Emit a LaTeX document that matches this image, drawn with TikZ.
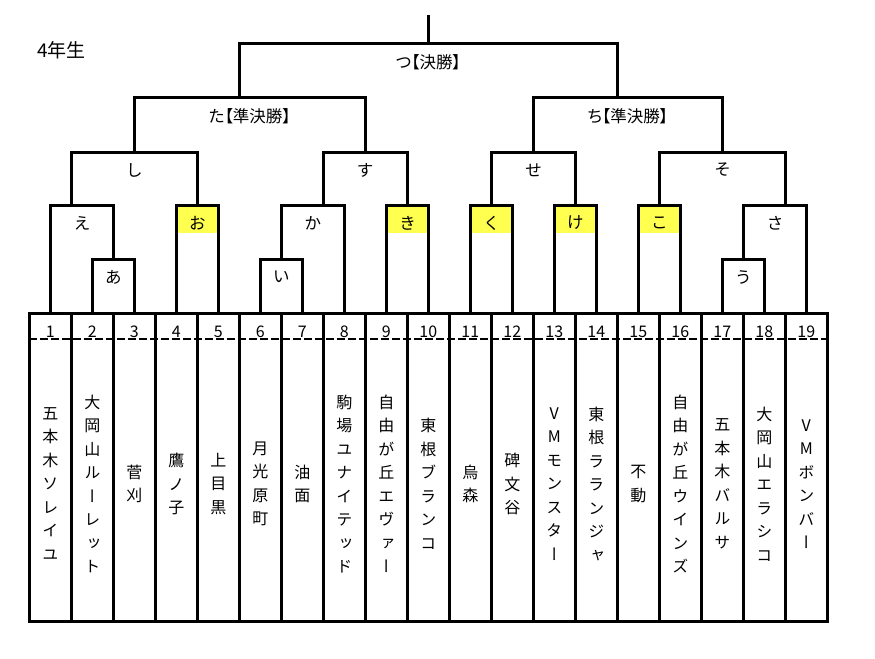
\documentclass[tikz,border=0pt]{standalone}
\usepackage{fontspec}
\setmainfont{Noto Sans CJK JP}
\newfontfamily\tatefont[RawFeature=+vert]{Noto Sans CJK JP}
\newfontfamily\lblfont[RawFeature=+palt]{Noto Sans CJK JP}
\usetikzlibrary{positioning}
\definecolor{hlyellow}{RGB}{255,255,80}
\tikzset{
    %Define style for bracket lines
    wire/.style={
           draw=black,
           line width=3pt},
    %Define style for round labels
    lbl/.style={
           font=\lblfont\fontsize{16.5pt}{18pt}\selectfont,
           inner sep=0pt},
    %Define style for team names, one character a line
    team/.style={
           font=\tatefont\fontsize{16pt}{23.5pt}\selectfont,
           align=center,
           inner sep=0pt},
    %Define style for team numbers
    num/.style={
           font=\fontsize{16pt}{18pt}\selectfont,
           anchor=base,
           inner sep=0pt},
    % seeded rounds
    hl/.style={
           fill=hlyellow}
}
\begin{document}
\begin{tikzpicture}[x=42pt,y=-1pt]
\useasboundingbox (-0.6976,0) rectangle (20.136,659);
 %team feet and numbers
\foreach \i in {1,...,19}{
  \coordinate (p\i) at (\i-0.5,313);
  \node[num] (t\i) at (\i-0.5,337) {\i};
}
 %joins of the bracket
\coordinate (j-a) at (2,259);
\coordinate (j-i) at (6,259);
\coordinate (j-u) at (17,259);
\coordinate (j-e) at (1,205);
\coordinate (j-o) at (4,205);
\coordinate (j-ka) at (7,205);
\coordinate (j-ki) at (9,205);
\coordinate (j-ku) at (11,205);
\coordinate (j-ke) at (13,205);
\coordinate (j-ko) at (15,205);
\coordinate (j-sa) at (18,205);
\coordinate (j-shi) at (2.5,152);
\coordinate (j-su) at (8,152);
\coordinate (j-se) at (12,152);
\coordinate (j-so) at (16.5,152);
\coordinate (j-ta) at (5,97);
\coordinate (j-chi) at (14,97);
\coordinate (j-tsu) at (9.5,43);
\coordinate (win) at (9.5,15);

 %yellow rounds
\foreach \i in {4,9,11,13,15}
  \fill[hl] (\i-0.5,205) rectangle (\i+0.5,233);

 %table
\draw[line width=2pt, dash pattern=on 8pt off 3pt] (0,339) -- (19,339);
\draw[wire] (0,313) rectangle (19,621);
\foreach \i in {1,...,18}
  \draw[wire] (\i,313) -- (\i,621);

 %bracket
\draw[wire] (p2) |- (j-a) -| (p3);
\draw[wire] (p6) |- (j-i) -| (p7);
\draw[wire] (p17) |- (j-u) -| (p18);
\draw[wire] (p1) |- (j-e) -| (j-a);
\draw[wire] (p4) |- (j-o) -| (p5);
\draw[wire] (j-i) |- (j-ka) -| (p8);
\draw[wire] (p9) |- (j-ki) -| (p10);
\draw[wire] (p11) |- (j-ku) -| (p12);
\draw[wire] (p13) |- (j-ke) -| (p14);
\draw[wire] (p15) |- (j-ko) -| (p16);
\draw[wire] (j-u) |- (j-sa) -| (p19);
\draw[wire] (j-e) |- (j-shi) -| (j-o);
\draw[wire] (j-ka) |- (j-su) -| (j-ki);
\draw[wire] (j-ku) |- (j-se) -| (j-ke);
\draw[wire] (j-ko) |- (j-so) -| (j-sa);
\draw[wire] (j-shi) |- (j-ta) -| (j-su);
\draw[wire] (j-se) |- (j-chi) -| (j-so);
\draw[wire] (j-ta) |- (j-tsu) -| (j-chi);
\draw[wire] (j-tsu) -- (win);

 %round labels
\node[lbl] (l-a) at (2,277) {あ};
\node[lbl] (l-i) at (6,277) {い};
\node[lbl] (l-u) at (17,277) {う};
\node[lbl] (l-e) at (1.25,223) {え};
\node[lbl] (l-o) at (4,223) {お};
\node[lbl] (l-ka) at (6.75,223) {か};
\node[lbl] (l-ki) at (9,223) {き};
\node[lbl] (l-ku) at (11,223) {く};
\node[lbl] (l-ke) at (13,223) {け};
\node[lbl] (l-ko) at (15,223) {こ};
\node[lbl] (l-sa) at (17.75,223) {さ};
\node[lbl] (l-shi) at (2.5,170) {し};
\node[lbl] (l-su) at (8,170) {す};
\node[lbl] (l-se) at (12,170) {せ};
\node[lbl] (l-so) at (16.5,170) {そ};
\node[lbl] (l-ta) at (5.25,116) {た【準決勝】};
\node[lbl] (l-chi) at (14.25,116) {ち【準決勝】};
\node[lbl] (l-tsu) at (9.5,62) {つ【決勝】};
\node[lbl, font=\fontsize{19pt}{21pt}\selectfont, anchor=west] (title) at (0.18,50) {4年生};

 %team names
\node[team] (n1) at (0.5,484) {五\\本\\木\\ソ\\レ\\イ\\ユ};
\node[team] (n2) at (1.5,484) {大\\岡\\山\\ル\\ー\\レ\\ッ\\ト};
\node[team] (n3) at (2.5,484) {菅\\刈};
\node[team] (n4) at (3.5,484) {鷹\\ノ\\子};
\node[team] (n5) at (4.5,484) {上\\目\\黒};
\node[team] (n6) at (5.5,484) {月\\光\\原\\町};
\node[team] (n7) at (6.5,484) {油\\面};
\node[team] (n8) at (7.5,484) {駒\\場\\ユ\\ナ\\イ\\テ\\ッ\\ド};
\node[team] (n9) at (8.5,484) {自\\由\\が\\丘\\エ\\ヴ\\ァ\\ー};
\node[team] (n10) at (9.5,484) {東\\根\\ブ\\ラ\\ン\\コ};
\node[team] (n11) at (10.5,484) {烏\\森};
\node[team] (n12) at (11.5,484) {碑\\文\\谷};
\node[team] (n13) at (12.5,484) {V\\M\\モ\\ン\\ス\\タ\\ー};
\node[team] (n14) at (13.5,484) {東\\根\\ラ\\ラ\\ン\\ジ\\ャ};
\node[team] (n15) at (14.5,484) {不\\動};
\node[team] (n16) at (15.5,484) {自\\由\\が\\丘\\ウ\\イ\\ン\\ズ};
\node[team] (n17) at (16.5,484) {五\\本\\木\\バ\\ル\\サ};
\node[team] (n18) at (17.5,484) {大\\岡\\山\\エ\\ラ\\シ\\コ};
\node[team] (n19) at (18.5,484) {V\\M\\ボ\\ン\\バ\\ー};

\end{tikzpicture}
\end{document}
